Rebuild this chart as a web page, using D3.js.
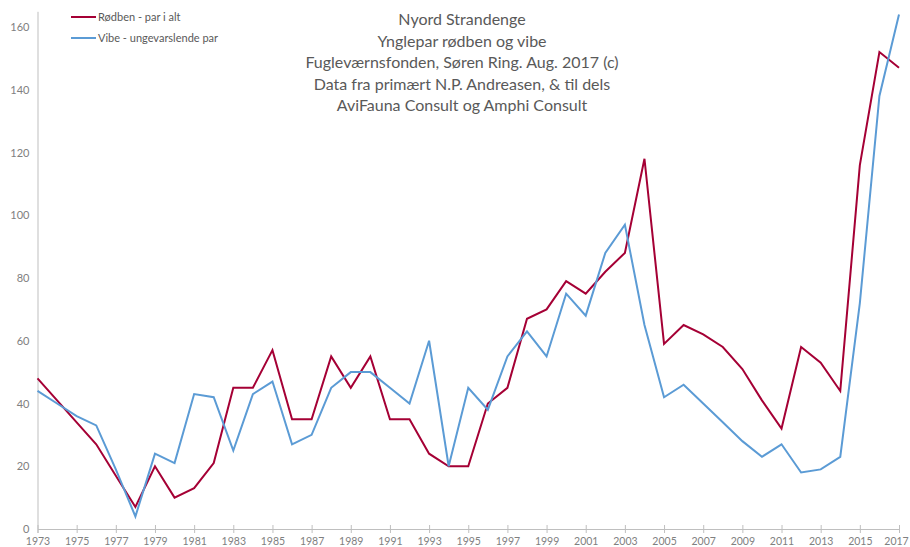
<!DOCTYPE html>
<html><head><meta charset="utf-8">
<script src="https://cdn.jsdelivr.net/npm/d3@7"></script>
<style>
html,body{margin:0;padding:0;background:#fff;overflow:hidden;}
svg{display:block;font-family:Lato,"Open Sans",sans-serif;}
</style></head>
<body>
<svg id="chart" width="910" height="547"></svg>
<script>
const years = d3.range(1973, 2018);
const rodben = [48,41,34,27,17,7,20,10,13,21,45,45,57,35,35,55,45,55,35,35,24,20,20,40,45,67,70,79,75,82,88,118,59,65,62,58,51,41,32,58,53,44,116,152,147];
const vibe   = [44,40,36,33,19,4,24,21,43,42,25,43,47,27,30,45,50,50,45,40,60,20,45,38,55,63,55,75,68,88,97,65,42,46,40,34,28,23,27,18,19,23,72,138,164];
const yTicks = [0,20,40,60,80,100,120,140,160];
const xTicks = d3.range(1973, 2018, 2);
const titleLines = ["Nyord Strandenge","Ynglepar rødben og vibe","Fugleværnsfonden, Søren Ring. Aug. 2017 (c)","Data fra primært N.P. Andreasen, & til dels","AviFauna Consult og Amphi Consult"];
const seriesNames = ["Rødben - par i alt","Vibe - ungevarslende par"];
const colors = ["#a50035","#5b9bd5"];

const svg = d3.select("#chart");
const x = d3.scaleLinear().domain([1973, 2017]).range([37.5, 899]);
const y = d3.scaleLinear().domain([0, 165]).range([529, 11.3]);

// Y axis
const yAxis = svg.append("g").attr("transform","translate(37.5,0)")
  .call(d3.axisLeft(y).tickValues(yTicks).tickSize(0).tickPadding(8));
yAxis.select(".domain").attr("stroke","#bfbfbf");
yAxis.selectAll("text").attr("fill","#808080").style("font-size","11px").style("font-family","Lato,sans-serif");

// X axis
const xAxis = svg.append("g").attr("transform","translate(0,529)")
  .call(d3.axisBottom(x).tickValues(xTicks).tickFormat(d3.format("d")).tickSizeOuter(0).tickSize(4).tickPadding(5));
xAxis.select(".domain").attr("stroke","#bfbfbf");
xAxis.selectAll(".tick line").attr("stroke","#bfbfbf").attr("y1",-4).attr("y2",4);
xAxis.selectAll("text").attr("fill","#808080").style("font-size","10.5px").style("font-family","Lato,sans-serif");
xAxis.selectAll(".tick").filter(d=>d===2017).select("text").attr("dx","-3");

// Lines
const line = d3.line().x((d,i)=>x(years[i])).y(d=>y(d));
[rodben, vibe].forEach((s,k)=>{
  svg.append("path").datum(s).attr("d",line).attr("fill","none")
    .attr("stroke",colors[k]).attr("stroke-width",2).attr("stroke-linejoin","miter");
});

// Title
svg.append("g").selectAll("text").data(titleLines).join("text")
  .attr("x",462).attr("y",(d,i)=>25+i*21.6).attr("text-anchor","middle")
  .attr("fill","#595959").style("font-size","16px").style("font-family","Lato,sans-serif")
  .text(d=>d);

// Legend
const lg = svg.append("g");
seriesNames.forEach((n,k)=>{
  const yy = 17 + k*21;
  lg.append("line").attr("x1",71).attr("x2",96).attr("y1",yy).attr("y2",yy)
    .attr("stroke",colors[k]).attr("stroke-width",2);
  lg.append("text").attr("x",98).attr("y",yy+4).attr("fill","#595959")
    .style("font-size","11px").style("font-family","Lato,sans-serif").text(n);
});
</script>
</body></html>
